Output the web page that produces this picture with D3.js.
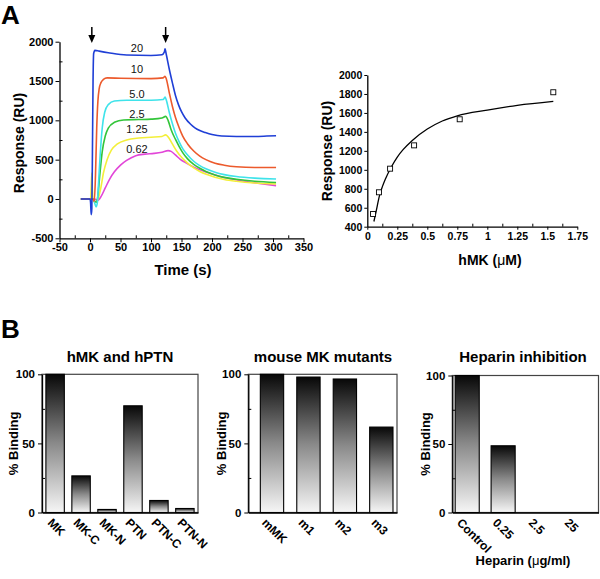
<!DOCTYPE html>
<html><head><meta charset="utf-8">
<script src="https://cdnjs.cloudflare.com/ajax/libs/d3/7.8.5/d3.min.js"></script>
<style>body{margin:0;background:#fff} svg{display:block}</style>
</head><body><svg id="c" width="600" height="579"></svg>
<script>
// ---------- DATA ----------
// Panel A (left): sensorgrams, [time s, response RU]
const concLabels = ["20","10","5.0","2.5","1.25","0.62"];
const seriesColors = ["#1f3fd6","#ec5a2c","#3fe3ea","#33c53a","#f3ef3a","#e246d8"];
const labelRU = [1920,1655,1335,1080,890,640];
const s20 = [[-15,0],[0,0],[1,-50],[2,-200],[3,-120],[4,600],[5,1500],[6,1850],[8,1890],[15,1880],[30,1860],[60,1830],[100,1825],[118,1835],[122,1870],[123,1910],[125,1840],[130,1650],[135,1480],[140,1320],[145,1200],[150,1110],[156,1030],[165,950],[172,905],[180,870],[189,845],[200,820],[216,800],[240,795],[270,795],[290,800],[305,805]];
const s10 = [[-15,0],[5,0],[7,-30],[9,300],[11,900],[13,1250],[15,1400],[18,1480],[22,1520],[28,1540],[50,1535],[100,1530],[120,1540],[123,1560],[125,1530],[130,1350],[135,1180],[140,1040],[146,910],[152,800],[160,700],[170,610],[180,545],[190,500],[205,455],[220,430],[240,410],[270,400],[305,400]];
const s5 = [[-15,0],[5,0],[8,-60],[10,-100],[12,-50],[14,200],[17,600],[20,900],[24,1100],[30,1200],[40,1245],[60,1255],[100,1255],[120,1265],[123,1295],[125,1260],[130,1100],[135,960],[140,840],[146,730],[152,640],[160,560],[170,480],[180,425],[190,385],[205,340],[220,310],[240,285],[270,265],[305,255]];
const s25 = [[-15,0],[5,0],[8,-30],[11,-40],[13,50],[16,300],[20,600],[25,800],[30,900],[40,975],[55,1005],[80,1010],[100,1015],[118,1030],[124,1050],[128,1000],[133,880],[140,760],[146,670],[152,590],[160,510],[170,440],[180,390],[190,350],[205,305],[220,275],[240,250],[270,225],[305,210]];
const s125 = [[-15,0],[1,0],[2,150],[3,330],[4,100],[6,-30],[10,-40],[14,20],[18,150],[22,330],[28,500],[35,620],[45,700],[60,750],[80,775],[100,785],[118,795],[124,815],[128,790],[135,700],[142,610],[150,530],[160,455],[170,395],[180,350],[192,310],[205,275],[220,248],[240,225],[270,203],[305,190]];
const s062 = [[-15,0],[8,0],[12,-20],[18,30],[25,140],[32,250],[40,345],[50,430],[60,490],[75,550],[90,570],[105,580],[118,595],[128,615],[133,605],[140,560],[148,505],[156,465],[170,405],[189,345],[205,305],[216,280],[235,250],[250,228],[275,200],[305,170]];
const sensorgrams = [s20,s10,s5,s25,s125,s062];
const injectionMarks = [3,124];
const timeTicks = [-50,0,50,100,150,200,250,300,350];
const respTicks = [-500,0,500,1000,1500,2000];

// Panel A (right): equilibrium binding
const hmkConc = [0.048,0.097,0.19,0.39,0.77,1.55];
const hmkResp = [534,763,1012,1258,1533,1818];
const fitConc = [0.055,0.075,0.1,0.125,0.15,0.2,0.25,0.3,0.375,0.5,0.625,0.75,1.0,1.25,1.55];
const fitResp = [455,570,720,820,900,1030,1135,1215,1310,1430,1515,1570,1630,1680,1722];
const concTicks = [0,0.25,0.5,0.75,1,1.25,1.5,1.75];
const resp2Ticks = [400,600,800,1000,1200,1400,1600,1800,2000];

// Panel B
const b1Cats = ["MK","MK-C","MK-N","PTN","PTN-C","PTN-N"];
const b1Vals = [100,26.5,2.2,77.2,8.7,2.9];
const b2Cats = ["mMK","m1","m2","m3"];
const b2Vals = [100,98,96.6,61.8];
const b3Cats = ["Control","0.25","2.5","25"];
const b3Vals = [100,48.7,0,0];
const bindTicks = [0,50,100];
const bindMinor = [25,75];

// ---------- DRAW ----------
const FONT = '"Liberation Sans", Arial, Helvetica, sans-serif';
const svg = d3.select("#c").attr("font-family", FONT);

function styleAxis(g, fs){
  g.attr("font-family", FONT);
  g.select(".domain").attr("stroke","#000").attr("stroke-width",1.3);
  g.selectAll(".tick line").attr("stroke","#000").attr("stroke-width",1);
  g.selectAll(".tick text").attr("font-size",fs).attr("font-weight","bold").attr("fill","#000");
}

// Panel label A
svg.append("text").attr("x",1).attr("y",24).attr("font-size",26).attr("font-weight","bold").text("A");
svg.append("text").attr("x",1).attr("y",338).attr("font-size",26).attr("font-weight","bold").text("B");

// ---- A left ----
const xA = d3.scaleLinear().domain([-50,350]).range([59.5,303.5]);
const yA = d3.scaleLinear().domain([-500,2000]).range([238.3,41.7]);
// minor ticks
const gAxm = svg.append("g").attr("transform","translate(0,238.3)")
  .call(d3.axisBottom(xA).tickValues(d3.range(-25,350,50)).tickSize(-3).tickFormat("").tickSizeOuter(0));
styleAxis(gAxm,11); gAxm.select(".domain").remove();
const gAx = svg.append("g").attr("transform","translate(0,238.3)")
  .call(d3.axisBottom(xA).tickValues(timeTicks).tickSize(4).tickPadding(1).tickFormat(d=>String(d)).tickSizeOuter(0));
styleAxis(gAx,11);
const gAym = svg.append("g").attr("transform","translate(59.5,0)")
  .call(d3.axisLeft(yA).tickValues(d3.range(-250,2000,500)).tickSize(-3).tickFormat("").tickSizeOuter(0));
styleAxis(gAym,11); gAym.select(".domain").remove();
const gAy = svg.append("g").attr("transform","translate(59.5,0)")
  .call(d3.axisLeft(yA).tickValues(respTicks).tickSize(4).tickPadding(2).tickFormat(d=>String(d)).tickSizeOuter(0));
styleAxis(gAy,11);
svg.append("text").attr("x",183).attr("y",275).attr("text-anchor","middle").attr("font-size",15).attr("font-weight","bold").text("Time (s)");
svg.append("text").attr("transform","translate(24,143) rotate(-90)").attr("text-anchor","middle").attr("font-size",14).attr("font-weight","bold").text("Response (RU)");

const lineA = d3.line().x(d=>xA(d[0])).y(d=>yA(d[1])).curve(d3.curveMonotoneX);
// purple baseline segment
svg.append("path").attr("d",lineA([[-15,0],[8,0]])).attr("stroke","#8a4fd8").attr("stroke-width",2).attr("fill","none");
sensorgrams.slice().reverse().forEach((s,i)=>{
  const k = sensorgrams.length-1-i;
  svg.append("path").attr("d",lineA(s)).attr("fill","none").attr("stroke",seriesColors[k]).attr("stroke-width",1.6);
});
concLabels.forEach((l,i)=>{
  svg.append("text").attr("x",xA(77)).attr("y",yA(labelRU[i])).attr("dy","0.35em").attr("text-anchor","middle")
    .attr("font-size",11).attr("fill","#111").text(l);
});
// injection arrows
injectionMarks.forEach(t=>{
  const x = xA(t);
  svg.append("line").attr("x1",x).attr("x2",x).attr("y1",27).attr("y2",36).attr("stroke","#000").attr("stroke-width",1.5);
  svg.append("path").attr("d",`M${x-3.5},35 L${x+3.5},35 L${x},43 Z`).attr("fill","#000");
});

// ---- A right ----
const xB = d3.scaleLinear().domain([0,1.75]).range([367.3,577.3]);
const yB = d3.scaleLinear().domain([400,2000]).range([226.7,75]);
const gBxm = svg.append("g").attr("transform","translate(0,226.7)")
  .call(d3.axisBottom(xB).tickValues(d3.range(0.125,1.75,0.25)).tickSize(-3).tickFormat("").tickSizeOuter(0));
styleAxis(gBxm,10); gBxm.select(".domain").remove();
const gBx = svg.append("g").attr("transform","translate(0,226.7)")
  .call(d3.axisBottom(xB).tickValues(concTicks).tickSize(3).tickPadding(3).tickFormat(d=>String(d)).tickSizeOuter(0));
styleAxis(gBx,10.5);
const gBy = svg.append("g").attr("transform","translate(367.3,0)")
  .call(d3.axisLeft(yB).tickValues(resp2Ticks).tickSize(3).tickPadding(2).tickFormat(d=>String(d)).tickSizeOuter(0));
styleAxis(gBy,10.5);
svg.append("text").attr("x",490).attr("y",265).attr("text-anchor","middle").attr("font-size",14).attr("font-weight","bold")
  .html('hMK (<tspan font-weight="normal">μ</tspan>M)');
svg.append("text").attr("transform","translate(332,151) rotate(-90)").attr("text-anchor","middle").attr("font-size",14).attr("font-weight","bold").text("Response (RU)");
const fitPts = fitConc.map((c,i)=>[c,fitResp[i]]);
svg.append("path").attr("d",d3.line().x(d=>xB(d[0])).y(d=>yB(d[1])).curve(d3.curveMonotoneX)(fitPts))
  .attr("fill","none").attr("stroke","#000").attr("stroke-width",1.3);
svg.selectAll("rect.pt").data(hmkConc.map((c,i)=>[c,hmkResp[i]])).enter().append("rect").attr("class","pt")
  .attr("x",d=>xB(d[0])-2.5).attr("y",d=>yB(d[1])-2.5).attr("width",5).attr("height",5)
  .attr("fill","#fff").attr("stroke","#000").attr("stroke-width",0.9);

// ---- B ----
const defs = svg.append("defs");
const grad = defs.append("linearGradient").attr("id","bg").attr("x1",0).attr("y1",0).attr("x2",0).attr("y2",1);
grad.append("stop").attr("offset",0).attr("stop-color","#080808");
grad.append("stop").attr("offset",0.5).attr("stop-color","#8a8a8a");
grad.append("stop").attr("offset",1).attr("stop-color","#f6f6f6");

function barPanel(cfg){
  const {cats, vals, x0, x1, top, bottom, title, titleX, padIn, padOut, align, ylabX, xlabel} = cfg;
  const x = d3.scaleBand().domain(cats).range([x0,x1]).paddingInner(padIn).paddingOuter(padOut).align(align);
  const y = d3.scaleLinear().domain([0,100]).range([bottom,top]);
  // frame
  svg.append("rect").attr("x",x0).attr("y",top).attr("width",x1-x0).attr("height",bottom-top)
    .attr("fill","none").attr("stroke","#444").attr("stroke-width",1.2);
  svg.selectAll(null).data(cats).enter().append("rect")
    .attr("x",d=>x(d)).attr("width",x.bandwidth())
    .attr("y",(d,i)=>y(vals[i])).attr("height",(d,i)=>bottom-y(vals[i]))
    .attr("fill","url(#bg)").attr("stroke","#000").attr("stroke-width",1.1)
    .style("display",(d,i)=>vals[i]>0?null:"none");
  const ga = svg.append("g").attr("transform",`translate(${x0},0)`)
    .call(d3.axisLeft(y).tickValues(bindTicks).tickSize(4).tickPadding(3).tickFormat(d=>String(d)).tickSizeOuter(0));
  styleAxis(ga,11.5);
  const gm = svg.append("g").attr("transform",`translate(${x0},0)`)
    .call(d3.axisLeft(y).tickValues(bindMinor).tickSize(-3).tickFormat("").tickSizeOuter(0));
  styleAxis(gm,11); gm.select(".domain").remove();
  const gb = svg.append("g").attr("transform",`translate(0,${bottom})`)
    .call(d3.axisBottom(x).tickSize(0).tickSizeOuter(0));
  gb.select(".domain").attr("stroke","#000").attr("stroke-width",1.5);
  gb.attr("font-family",FONT);
  gb.selectAll(".tick text").attr("font-size",12).attr("font-weight","bold").attr("fill","#000")
    .attr("text-anchor","start").attr("dy",0).attr("y",0)
    .attr("transform",`translate(${-x.bandwidth()/2+1},11) rotate(45)`);
  svg.append("text").attr("x",titleX).attr("y",362).attr("text-anchor","middle").attr("font-size",15).attr("font-weight","bold").text(title);
  svg.append("text").attr("transform",`translate(${ylabX},${(top+bottom)/2}) rotate(-90)`).attr("text-anchor","middle")
    .attr("font-size",13).attr("font-weight","bold").text("% Binding");
  if (xlabel) svg.append("text").attr("x",titleX).attr("y",565).attr("text-anchor","middle").attr("font-size",13).attr("font-weight","bold")
    .html('Heparin (<tspan font-weight="normal">μ</tspan>g/ml)');
}
barPanel({cats:b1Cats, vals:b1Vals, x0:42, x1:198, top:374.3, bottom:512.5, title:"hMK and hPTN", titleX:120, padIn:0.29, padOut:0.15, align:0.5, ylabX:18});
barPanel({cats:b2Cats, vals:b2Vals, x0:248.3, x1:397, top:374.3, bottom:512.5, title:"mouse MK mutants", titleX:323, padIn:0.36, padOut:0.22, align:0.75, ylabX:226});
barPanel({cats:b3Cats, vals:b3Vals, x0:452.3, x1:598.5, top:375.5, bottom:512.5, title:"Heparin inhibition", titleX:523, padIn:0.33, padOut:0.2, align:0.2, ylabX:430, xlabel:true});
</script></body></html>
